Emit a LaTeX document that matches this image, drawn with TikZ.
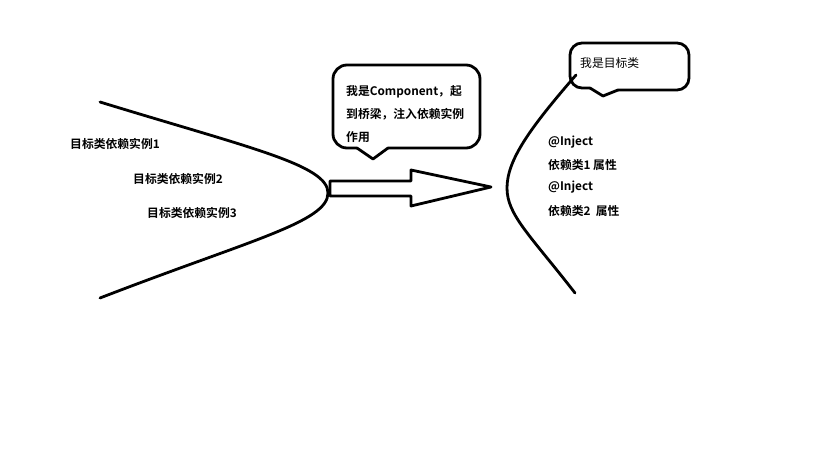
\documentclass[tikz,border=0pt]{standalone}
\usepackage{fontspec}
\newfontfamily\cjk{Noto Sans CJK SC}[BoldFont={Noto Sans CJK SC Bold}]

\begin{document}
\begin{tikzpicture}[%
            x=1pt,
            y=-1pt,
            line join=round,
            line cap=round,
            ]
    \tikzset{curve/.style = {line width=2.8pt, black}}
    \tikzset{bubble/.style = {line width=2.8pt, black, fill=white}}
    \tikzset{txt/.style = {font=\cjk\bfseries\fontsize{11.8}{14}\selectfont, anchor=west, inner sep=0pt}}
    \tikzset{txtreg/.style = {txt, font=\cjk\fontsize{11.8}{14}\selectfont}}

    \useasboundingbox[fill=white] (0,0) rectangle (819,460);

    % Left curve
    \draw[curve] (100,102) .. controls (250,148) and (328,165) .. (328,193)
                 .. controls (328,222) and (250,240) .. (100,298);

    % Block arrow
    \draw[curve] (330,181) -- (411,181) -- (411,170) -- (491,187)
                 -- (411,206) -- (411,196) -- (330,196) -- cycle;

    % Right curve
    \draw[curve] (576,75) .. controls (530,128) and (507,160) .. (507,188)
                 .. controls (507,215) and (530,235) .. (575,293);

    % Bubbles
    \draw[bubble, rounded corners=14] (388,148) -- (480,148) -- (480,65)
                 -- (333,65) -- (333,148) -- (357,148);
    \draw[bubble] (357,148) -- (373,159) -- (388,148);
    \draw[bubble, fill=none, rounded corners=12] (618,90) -- (689,90) -- (689,43)
                 -- (570,43) -- (570,88) -- (590,88);
    \draw[bubble, fill=none] (590,88) -- (603,96) -- (618,90);

    % Texts
    \node[txt] (inst1) at (70,144) {目标类依赖实例1};
    \node[txt] (inst2) at (133,179) {目标类依赖实例2};
    \node[txt] (inst3) at (147,213) {目标类依赖实例3};

    \node[txt] (comp1) at (346,92) {我是Component，起};
    \node[txt] (comp2) at (346,114) {到桥梁，注入依赖实例};
    \node[txt] (comp3) at (346,137) {作用};

    \node[txtreg] (target) at (580,63) {我是目标类};

    \node[txt] (inj1) at (548,142) {@Inject};
    \node[txt] (dep1) at (548,165) {依赖类1 属性};
    \node[txt] (inj2) at (548,187) {@Inject};
    \node[txt] (dep2) at (548,211) {依赖类2\ \ 属性};

\end{tikzpicture}
\end{document}
